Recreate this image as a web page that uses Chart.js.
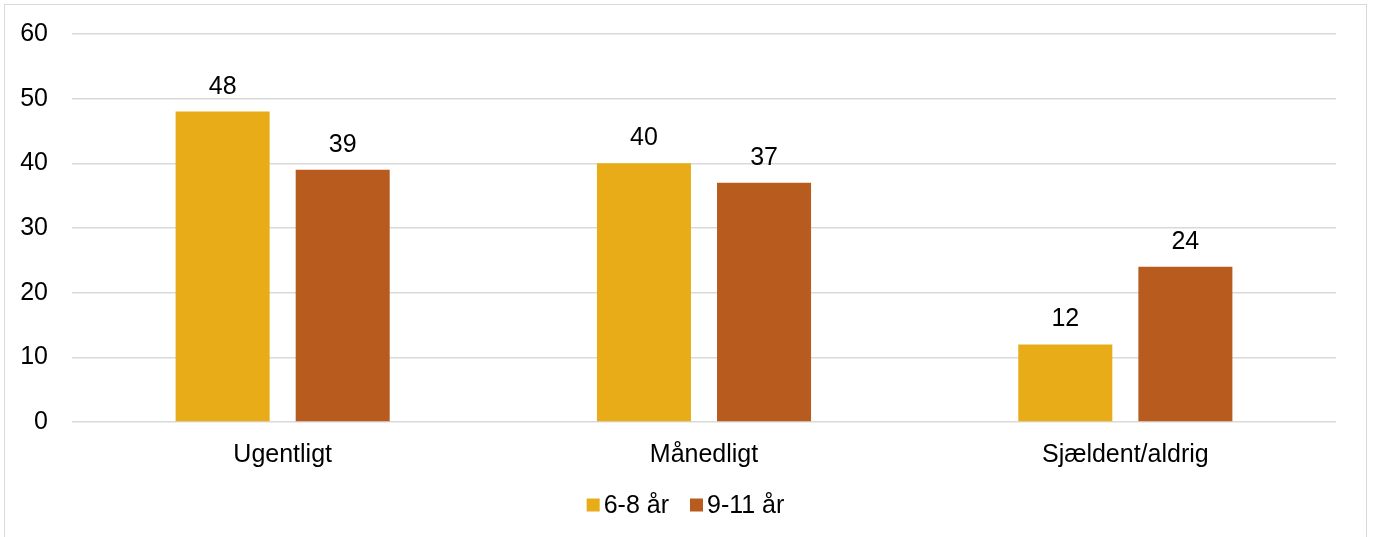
<!DOCTYPE html>
<html>
<head>
<meta charset="utf-8">
<script src="https://cdn.jsdelivr.net/npm/chart.js@4"></script>
<style>
  html, body { margin: 0; padding: 0; background: #ffffff; overflow: hidden; }
  #frame {
    position: absolute; left: 4px; top: 4px; width: 1361px; height: 540px;
    border: 1px solid #d9d9d9; background: #ffffff;
  }
  #chart { display: block; }
</style>
</head>
<body>
<div id="frame"><canvas id="chart" width="1361" height="532"></canvas></div>
<script>
const categories = ['Ugentligt', 'Månedligt', 'Sjældent/aldrig'];
const seriesNames = ['6-8 år', '9-11 år'];
const young = [48, 40, 12];
const older = [39, 37, 24];
const yTicks = [0, 10, 20, 30, 40, 50, 60];

const FONT = "'Liberation Sans', Arial, sans-serif";
const FONT_SIZE = 25;

// Writes each bar's value above it
const valueLabels = {
  id: 'valueLabels',
  afterDatasetsDraw(chart) {
    const ctx = chart.ctx;
    ctx.save();
    ctx.font = FONT_SIZE + 'px ' + FONT;
    ctx.fillStyle = '#000000';
    ctx.textAlign = 'center';
    ctx.textBaseline = 'alphabetic';
    chart.data.datasets.forEach((ds, i) => {
      chart.getDatasetMeta(i).data.forEach((bar, j) => {
        ctx.fillText(String(ds.data[j]), bar.x, bar.y - 18);
      });
    });
    ctx.restore();
  }
};

// Compact legend: small square swatch followed closely by the series name
const swatchLegend = {
  id: 'swatchLegend',
  afterDraw(chart) {
    const ctx = chart.ctx;
    const box = 13, gap = 4, spacing = 21;
    ctx.save();
    ctx.font = FONT_SIZE + 'px ' + FONT;
    ctx.textBaseline = 'middle';
    ctx.textAlign = 'left';
    const items = chart.data.datasets.map(ds => ({
      text: ds.label, color: ds.backgroundColor,
      w: box + gap + ctx.measureText(ds.label).width
    }));
    const total = items.reduce((s, it) => s + it.w, 0) + spacing * (items.length - 1);
    let x = (chart.width - total) / 2;
    const cy = chart.height - 32;
    items.forEach(it => {
      ctx.fillStyle = it.color;
      ctx.fillRect(x, cy - box / 2, box, box);
      ctx.fillStyle = '#000000';
      ctx.fillText(it.text, x + box + gap, cy + 1);
      x += it.w + spacing;
    });
    ctx.restore();
  }
};

new Chart(document.getElementById('chart'), {
  type: 'bar',
  data: {
    labels: categories,
    datasets: [
      { label: seriesNames[0], data: young, backgroundColor: '#E7AC18',
        categoryPercentage: 0.57, barPercentage: 0.783 },
      { label: seriesNames[1], data: older, backgroundColor: '#B85B1E',
        categoryPercentage: 0.57, barPercentage: 0.783 }
    ]
  },
  options: {
    responsive: false,
    animation: false,
    layout: { padding: { top: 29, right: 30, left: 0, bottom: 66 } },
    scales: {
      x: {
        grid: { display: false, drawTicks: false },
        border: { display: false },
        ticks: { color: '#000000', font: { family: FONT, size: FONT_SIZE }, padding: 18 },
        afterFit(scale) { scale.height = 49; }
      },
      y: {
        min: 0, max: 60,
        afterBuildTicks(scale) { scale.ticks = yTicks.map(v => ({ value: v })); },
        grid: { color: '#d9d9d9', lineWidth: 1.5, drawTicks: false },
        border: { display: false },
        ticks: { color: '#000000', font: { family: FONT, size: FONT_SIZE }, padding: 24 },
        afterFit(scale) {
          scale.width = 67;
          scale.paddingTop = 0;
          scale.paddingBottom = 0;
        }
      }
    },
    plugins: {
      legend: { display: false },
      tooltip: { enabled: false }
    }
  },
  plugins: [valueLabels, swatchLegend]
});
</script>
</body>
</html>
